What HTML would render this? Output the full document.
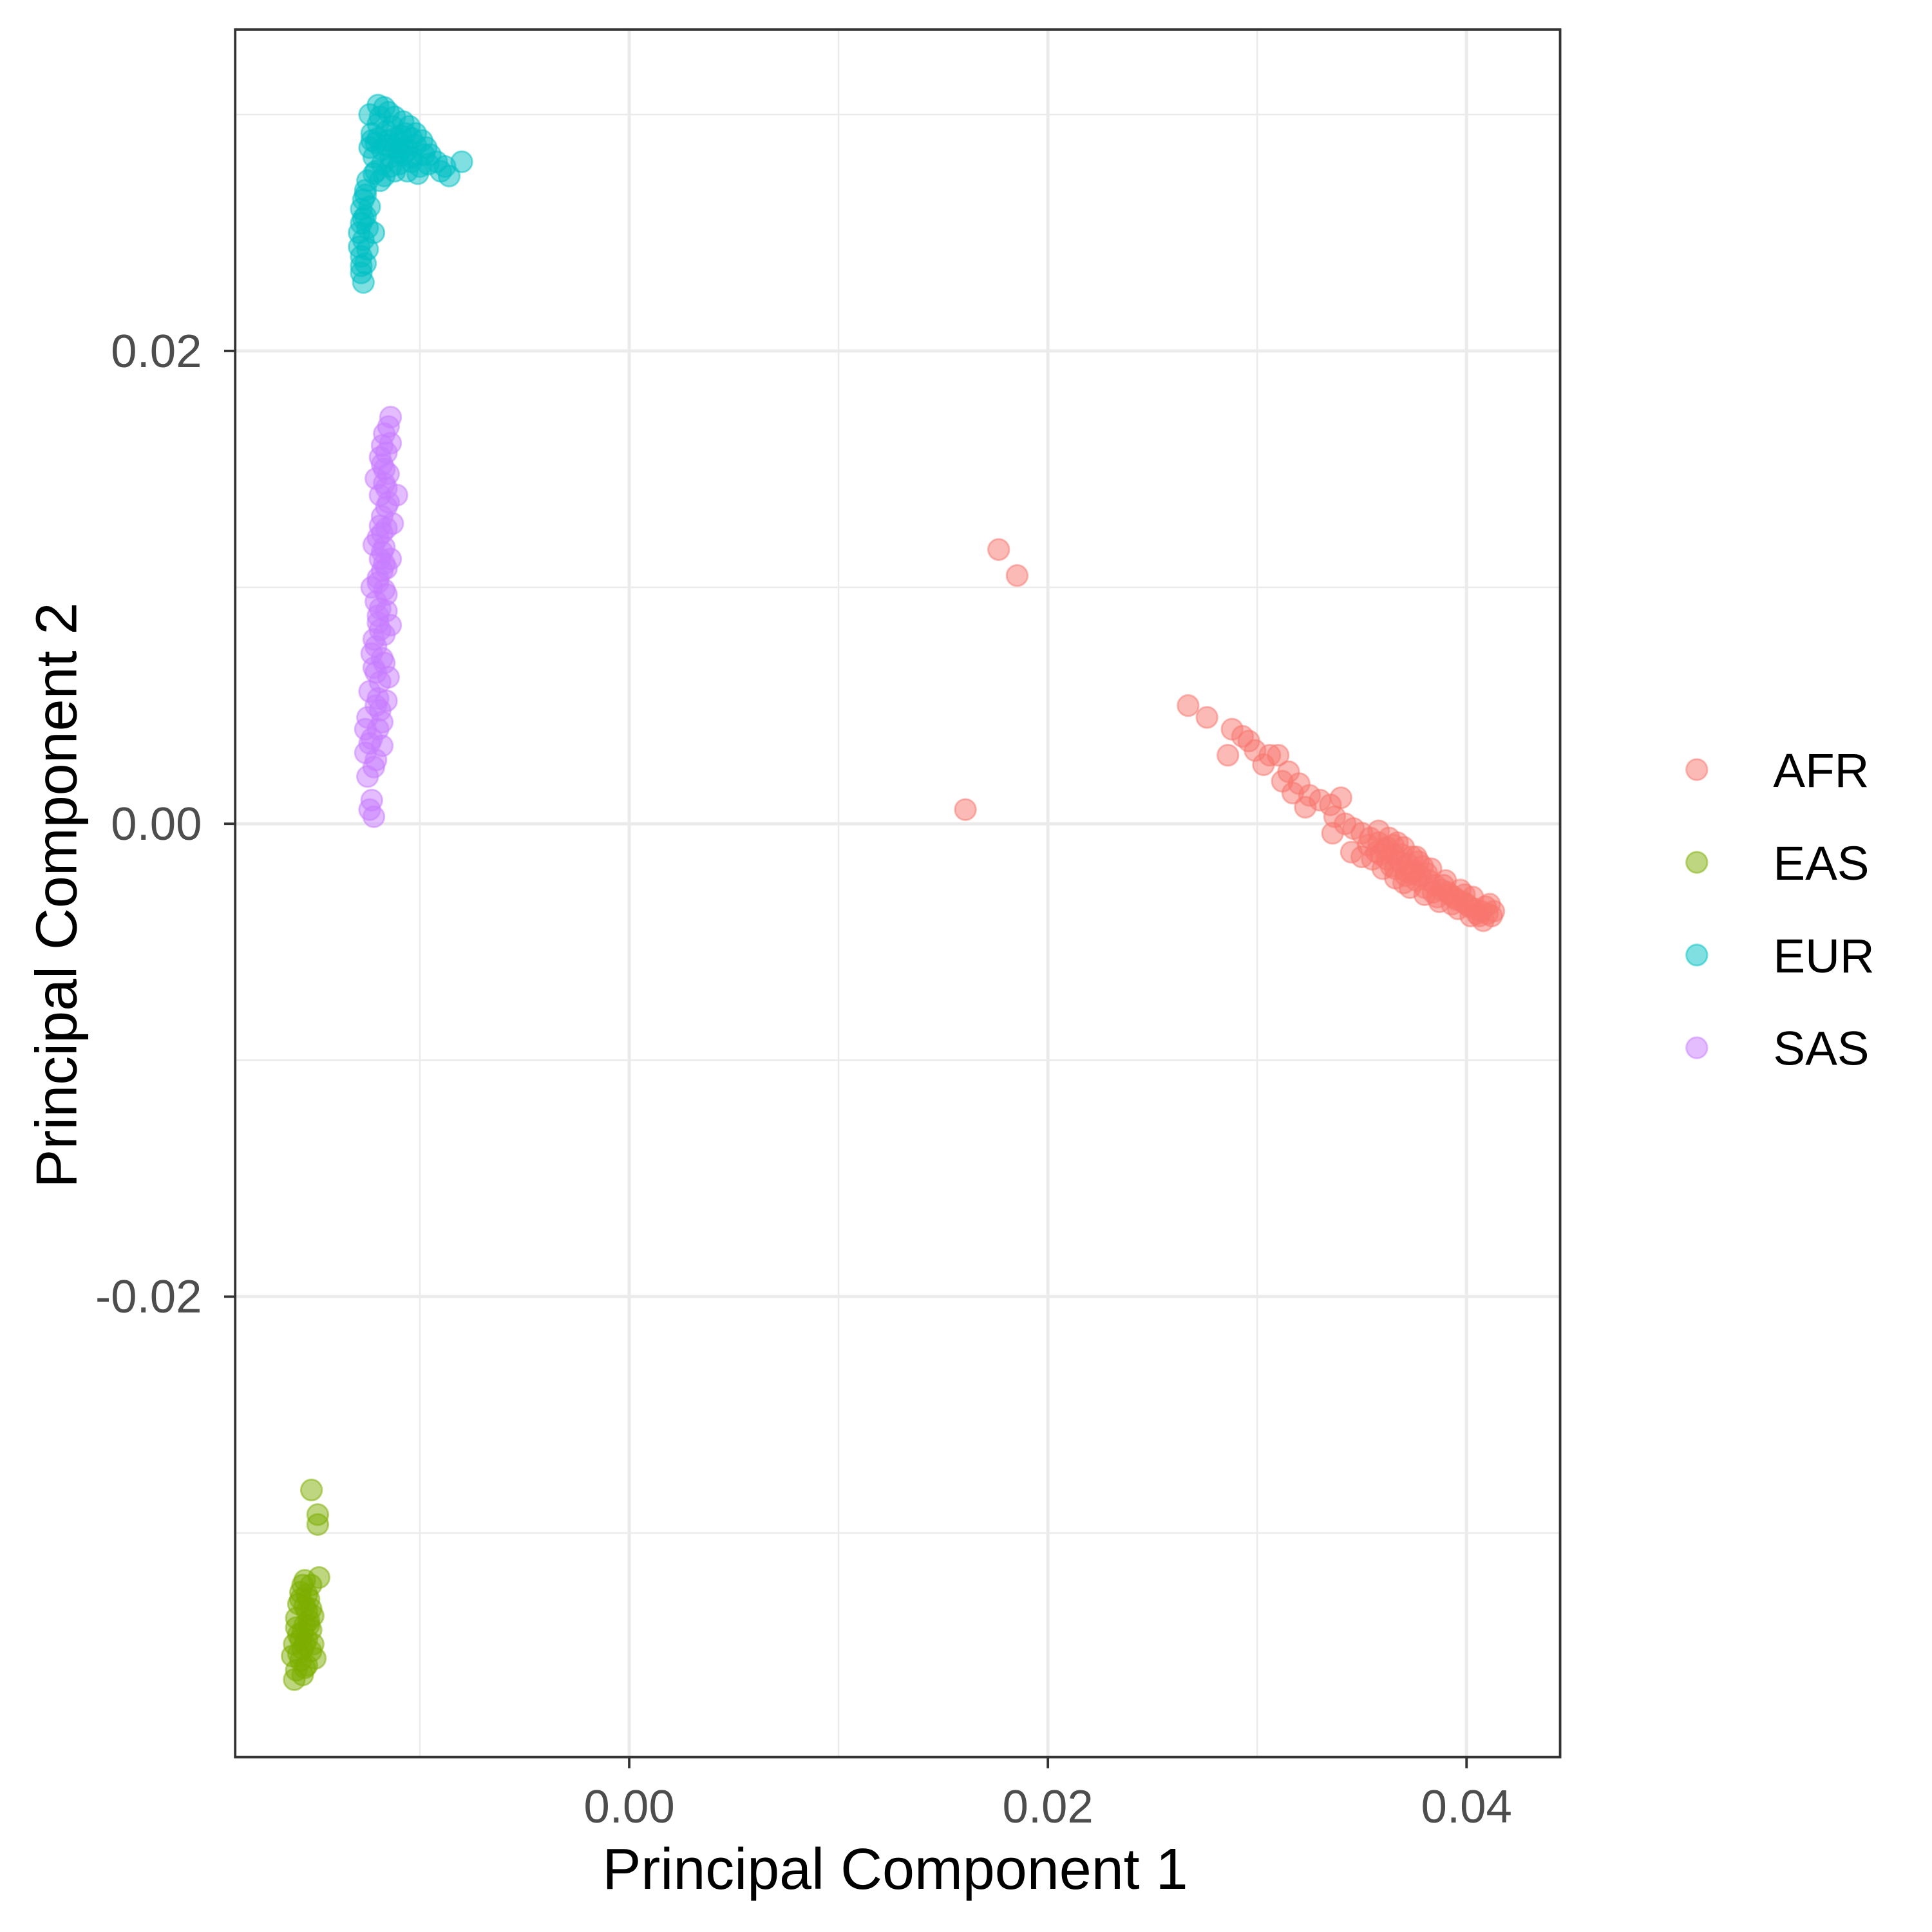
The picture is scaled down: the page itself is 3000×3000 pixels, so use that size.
<!DOCTYPE html>
<html><head><meta charset="utf-8"><style>
html,body{margin:0;padding:0;background:#fff;}
svg{display:block;}
text{font-family:"Liberation Sans",Arial,sans-serif;}
</style></head><body>
<svg id="chart" xmlns="http://www.w3.org/2000/svg" width="3000" height="3000" viewBox="0 0 1569 1569">
<rect width="1569" height="1569" fill="#fff"/>
<g id="grid"></g>
<g id="points"></g>
<rect x="191" y="24" width="1076" height="1403" fill="none" stroke="#333" stroke-width="2"/>
<g id="axes"></g>
<text x="727" y="1534" font-size="47" text-anchor="middle" fill="#000">Principal Component 1</text>
<text transform="translate(62,727) rotate(-90)" font-size="47" text-anchor="middle" fill="#000">Principal Component 2</text>
<g id="legend"></g>
</svg>
<script>
const groups = ["AFR","EAS","EUR","SAS"];
const colors = ["#F8766D","#7CAE00","#00BFC4","#C77CFF"];
const xTicks = [0, 0.02, 0.04];
const xTickLabels = ["0.00","0.02","0.04"];
const yTicks = [0.02, 0, -0.02];
const yTickLabels = ["0.02","0.00","-0.02"];
const xMinor = [-0.01, 0.01, 0.03];
const yMinor = [0.03, 0.01, -0.01, -0.03];

const afrX = [0.01765,0.01853,0.01606,0.0267,0.0276,0.0288,0.0293,0.0286,0.0296,0.0299,0.0306,0.0310,0.0303,0.0315,0.0312,0.0320,0.0317,0.0325,0.0330,0.0323,0.0335,0.0340,0.0337,0.0342,0.0346,0.0336,0.0350,0.0354,0.0345,0.0358,0.0362,0.0355,0.0365,0.0368,0.0360,0.0372,0.0375,0.0366,0.0378,0.0382,0.0373,0.0385,0.0388,0.0380,0.0392,0.0395,0.0387,0.0398,0.0401,0.0404,0.0396,0.0407,0.0410,0.0413,0.0408,0.0402,0.0358,0.0363,0.0370,0.0376,0.0383,0.0390,0.0397,0.0403,0.0411,0.0370,0.0350,0.0364,0.0369,0.0374,0.0379,0.0384,0.0389,0.0393,0.0399,0.0405,0.0409,0.0361,0.0367,0.0371,0.0377,0.0357,0.0362,0.0366,0.0371,0.0376,0.0380,0.0386,0.0391,0.0394,0.0400,0.0406,0.0412,0.0353,0.0359,0.0365,0.0374,0.0381];
const afrY = [0.0116,0.0105,0.0006,0.0050,0.0045,0.0040,0.0037,0.0029,0.0035,0.0031,0.0029,0.0029,0.0025,0.0022,0.0018,0.0017,0.0013,0.0012,0.0010,0.0007,0.0008,0.0011,0.0003,0.0000,-0.0002,-0.0004,-0.0004,-0.0006,-0.0012,-0.0008,-0.0010,-0.0015,-0.0013,-0.0016,-0.0019,-0.0017,-0.0020,-0.0023,-0.0022,-0.0024,-0.0027,-0.0026,-0.0028,-0.0030,-0.0030,-0.0032,-0.0033,-0.0033,-0.0035,-0.0036,-0.0036,-0.0037,-0.0038,-0.0037,-0.0041,-0.0039,-0.0003,-0.0006,-0.0010,-0.0014,-0.0019,-0.0024,-0.0028,-0.0031,-0.0034,-0.0025,-0.0014,-0.0018,-0.0013,-0.0021,-0.0018,-0.0029,-0.0026,-0.0034,-0.0030,-0.0038,-0.0035,-0.0011,-0.0008,-0.0020,-0.0016,-0.0012,-0.0015,-0.0019,-0.0022,-0.0024,-0.0027,-0.0031,-0.0029,-0.0031,-0.0034,-0.0039,-0.0039,-0.0009,-0.0013,-0.0009,-0.0014,-0.0021];

const easX = [-0.01518,-0.01488,-0.01488,-0.01482,-0.0155,-0.0152,-0.0157,-0.0153,-0.0158,-0.0154,-0.0151,-0.0159,-0.0155,-0.0152,-0.0158,-0.0154,-0.0160,-0.0156,-0.0152,-0.0161,-0.0157,-0.0154,-0.0159,-0.0156,-0.0160,-0.0157,-0.0155,-0.0153,-0.0151,-0.0157,-0.0150,-0.0156,-0.0154,-0.0158,-0.0155,-0.0156,-0.0153,-0.0159,-0.0155,-0.0152];
const easY = [-0.02818,-0.02922,-0.02964,-0.03188,-0.0320,-0.0322,-0.0325,-0.0328,-0.0330,-0.0333,-0.0335,-0.0336,-0.0339,-0.0341,-0.0343,-0.0345,-0.0347,-0.0349,-0.0350,-0.0352,-0.0354,-0.0356,-0.0358,-0.0360,-0.0362,-0.0345,-0.0331,-0.0337,-0.0347,-0.0328,-0.0353,-0.0342,-0.0326,-0.0351,-0.0357,-0.0322,-0.0339,-0.0340,-0.0347,-0.0332];

const eurX = [-0.0124,-0.0120,-0.0117,-0.0115,-0.0112,-0.0108,-0.0105,-0.0102,-0.0099,-0.0097,-0.0095,-0.0092,-0.0088,-0.0080,-0.0086,-0.0100,-0.0104,-0.0108,-0.0112,-0.0116,-0.0120,-0.0123,-0.0121,-0.0118,-0.0114,-0.0110,-0.0106,-0.0112,-0.0118,-0.0122,-0.0124,-0.0119,-0.0113,-0.0109,-0.0102,-0.0096,-0.0090,-0.0125,-0.0126,-0.0127,-0.0128,-0.0126,-0.0128,-0.0129,-0.0127,-0.0129,-0.0128,-0.0126,-0.0128,-0.0127,-0.0122,-0.0124,-0.0125,-0.0115,-0.0110,-0.0104,-0.0098,-0.0117,-0.0121,-0.0107,-0.0101,-0.0123,-0.0120,-0.0116,-0.0112,-0.0108,-0.0104,-0.0114,-0.0110,-0.0106,-0.0119,-0.0122,-0.0126,-0.0127,-0.0125,-0.0128];
const eurY = [0.0300,0.0304,0.0303,0.0301,0.0299,0.0297,0.0295,0.0292,0.0289,0.0286,0.0283,0.0280,0.0278,0.0280,0.0274,0.0278,0.0282,0.0286,0.0290,0.0293,0.0296,0.0292,0.0288,0.0285,0.0282,0.0279,0.0276,0.0276,0.0279,0.0282,0.0286,0.0299,0.0295,0.0291,0.0287,0.0279,0.0276,0.0272,0.0268,0.0264,0.0260,0.0257,0.0254,0.0250,0.0247,0.0244,0.0240,0.0237,0.0233,0.0229,0.0250,0.0261,0.0243,0.0289,0.0284,0.0280,0.0283,0.0274,0.0276,0.0292,0.0275,0.0289,0.0290,0.0287,0.0286,0.0283,0.0290,0.0278,0.0288,0.0285,0.0272,0.0275,0.0266,0.0256,0.0252,0.0236];

const sasX = [-0.0122,-0.0124,-0.0125,-0.0122,-0.0126,-0.0123,-0.0120,-0.0125,-0.0121,-0.0124,-0.0119,-0.0122,-0.0118,-0.0121,-0.0117,-0.0120,-0.0116,-0.0121,-0.0117,-0.0120,-0.0116,-0.0119,-0.0117,-0.0120,-0.0116,-0.0118,-0.0116,-0.0111,-0.0119,-0.0117,-0.0115,-0.0118,-0.0116,-0.0114,-0.0117,-0.0115,-0.0114,-0.0123,-0.0119,-0.0115,-0.0123,-0.0114,-0.0123,-0.0114,-0.0122,-0.0113,-0.0121,-0.0118,-0.0126,-0.0118,-0.0116,-0.0119,-0.0118,-0.0119,-0.0121,-0.0118,-0.0120,-0.0117,-0.0122,-0.0119,-0.0116,-0.0120,-0.0117,-0.0118,-0.0115,-0.0117,-0.0121,-0.0124,-0.0120,-0.0118,-0.0116,-0.0119];
const sasY = [0.0003,0.0006,0.0020,0.0024,0.0030,0.0036,0.0040,0.0045,0.0050,0.0056,0.0060,0.0066,0.0070,0.0075,0.0080,0.0085,0.0090,0.0094,0.0099,0.0104,0.0108,0.0112,0.0117,0.0121,0.0125,0.0130,0.0134,0.0139,0.0139,0.0144,0.0148,0.0152,0.0157,0.0161,0.0165,0.0168,0.0172,0.0010,0.0048,0.0062,0.0072,0.0084,0.0100,0.0112,0.0118,0.0127,0.0146,0.0160,0.0040,0.0033,0.0052,0.0091,0.0107,0.0126,0.0027,0.0043,0.0053,0.0068,0.0078,0.0082,0.0097,0.0102,0.0110,0.0123,0.0136,0.0150,0.0064,0.0034,0.0088,0.0115,0.0142,0.0155];

const seriesX = [afrX, easX, eurX, sasX];
const seriesY = [afrY, easY, eurY, sasY];

const NS = "http://www.w3.org/2000/svg";
function sx(v){ return 511 + v * 17000; }
function sy(v){ return 669 - v * 19200; }
function mk(tag, attrs, parent){ const e = document.createElementNS(NS, tag); for (const k in attrs) e.setAttribute(k, attrs[k]); parent.appendChild(e); return e; }

const grid = document.getElementById('grid');
xMinor.forEach(v => { const l = mk('line', {x1:sx(v), x2:sx(v), y1:24, y2:1427, stroke:'#ebebeb', 'stroke-width':1.3}, grid);

 });
yMinor.forEach(v => { const l = mk('line', {x1:191, x2:1267, y1:sy(v), y2:sy(v), stroke:'#ebebeb', 'stroke-width':1.3}, grid);

 });
xTicks.forEach(v => { const l = mk('line', {x1:sx(v), x2:sx(v), y1:24, y2:1427, stroke:'#ebebeb', 'stroke-width':2.6}, grid);

 });
yTicks.forEach(v => { const l = mk('line', {x1:191, x2:1267, y1:sy(v), y2:sy(v), stroke:'#ebebeb', 'stroke-width':2.6}, grid);

 });

const pts = document.getElementById('points');
seriesX.forEach((xs, gi) => {
  const g = mk('g', {}, pts);
  
  
  xs.forEach((xv, i) => {
    const c = mk('circle', {cx:sx(xv), cy:sy(seriesY[gi][i]), r:8.5, fill:colors[gi], 'fill-opacity':0.5, stroke:colors[gi], 'stroke-opacity':0.5, 'stroke-width':1.5}, g);
    
    
  });
});

const axes = document.getElementById('axes');
xTicks.forEach((v, i) => {
  const t = mk('line', {x1:sx(v), x2:sx(v), y1:1427, y2:1436, stroke:'#333', 'stroke-width':2}, axes);
  
  
  const tx = mk('text', {x:sx(v), y:1480, 'font-size':38, 'text-anchor':'middle', fill:'#4d4d4d'}, axes);
  tx.textContent = xTickLabels[i];
  
  
});
yTicks.forEach((v, i) => {
  const t = mk('line', {x1:182, x2:191, y1:sy(v), y2:sy(v), stroke:'#333', 'stroke-width':2}, axes);
  
  
  const tx = mk('text', {x:164, y:sy(v)+13, 'font-size':38, 'text-anchor':'end', fill:'#4d4d4d'}, axes);
  tx.textContent = yTickLabels[i];
  
  
});

const legend = document.getElementById('legend');
groups.forEach((gname, i) => {
  const y = 625 + i * 75.3;
  const c = mk('circle', {cx:1378, cy:y, r:8.5, fill:colors[i], 'fill-opacity':0.5, stroke:colors[i], 'stroke-opacity':0.5, 'stroke-width':1.5}, legend);
  
  
  const t = mk('text', {x:1440, y:y+14, 'font-size':39, fill:'#000'}, legend);
  t.textContent = gname;
  
  
});
</script>
</body></html>
